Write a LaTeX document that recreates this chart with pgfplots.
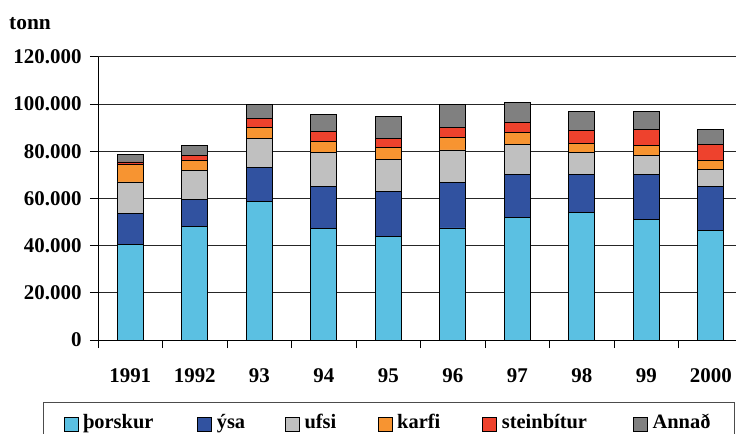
\documentclass[border=0pt]{standalone}
\usepackage{pgfplots}
\pgfplotsset{compat=1.18}
\usepackage{pgfplotstable}
\usepackage{fontspec}
\setmainfont{Liberation Serif}
\definecolor{cth}{RGB}{91,192,226}
\definecolor{cys}{RGB}{49,82,160}
\definecolor{cuf}{RGB}{192,192,192}
\definecolor{cka}{RGB}{247,148,49}
\definecolor{cst}{RGB}{238,66,45}
\definecolor{can}{RGB}{128,128,128}
\pgfplotstableread{
x th ys uf ka st an
0 40400 13100 13500 7400 1100 3300
1 48100 11600 12100 4300 2100 4400
2 58700 14400 12300 4800 3600 6200
3 47400 17700 14600 4600 4000 7200
4 44000 18900 13600 5100 3800 9400
5 47500 19200 13900 5300 4100 10000
6 52100 18000 12800 5000 4300 8500
7 54000 16100 9600 3800 5300 8000
8 51000 19100 8000 4400 6800 7500
9 46500 18600 7400 3800 6600 6500
}\data
\begin{document}
\begin{tikzpicture}
\path[use as bounding box] (0,0) rectangle (736bp,434bp);
\node[anchor=base west, inner sep=0pt, font=\fontsize{21.5}{25}\selectfont\bfseries] at (9bp,404bp) {tonn};
\begin{axis}[
 at={(98bp,94bp)}, anchor=south west,
 scale only axis, width=638bp, height=283bp,
 xmin=-0.5, xmax=9.39, ymin=0, ymax=120000,
 ybar stacked, bar width=26bp,
 axis lines=left, axis line style={-, line width=1bp, black},
 tick align=outside,
 tick style={line width=1bp, black},
 xtick={0,...,9},
 xticklabels={1991,1992,93,94,95,96,97,98,99,2000},
 minor xtick={-0.5,0.5,...,8.5},
 major x tick style={draw=none},
 minor tick length=8bp,
 major tick length=8bp,
 scaled y ticks=false,
 ytick={0,20000,40000,60000,80000,100000,120000},
 yticklabels={0,20.000,40.000,60.000,80.000,100.000,120.000},
 ymajorgrids, grid style={black!85, line width=1bp},
 /pgf/number format/assume math mode=true,
 ticklabel style={font=\fontsize{21}{25}\selectfont\bfseries},
 xticklabel style={yshift=-17bp},
 yticklabel style={xshift=-5bp},
 legend style={at={(-0.0862,-0.2191)}, anchor=north west, legend columns=-1,
   draw=black!70, line width=0.8bp, inner xsep=8bp, inner ysep=12bp,
   font=\fontsize{20.5}{24}\selectfont\bfseries, nodes={inner sep=0pt},
   cells={anchor=base west},
   /tikz/every odd column/.style={column sep=5bp},
   /tikz/every even column/.style={column sep=0bp}},
 legend image code/.code={\path (0bp,0bp); \draw[#1,draw=black,line width=0.6bp] (12bp,-2bp) rectangle (26bp,12bp);},
]
\addplot[fill=cth, draw=black, line width=0.8bp] table[x=x,y=th]{\data};
\addlegendentry{\makebox[102bp][l]{þorskur}}
\addplot[fill=cys, draw=black, line width=0.8bp] table[x=x,y=ys]{\data};
\addlegendentry{\makebox[56bp][l]{ýsa}}
\addplot[fill=cuf, draw=black, line width=0.8bp] table[x=x,y=uf]{\data};
\addlegendentry{\makebox[61bp][l]{ufsi}}
\addplot[fill=cka, draw=black, line width=0.8bp] table[x=x,y=ka]{\data};
\addlegendentry{\makebox[73bp][l]{karfi}}
\addplot[fill=cst, draw=black, line width=0.8bp] table[x=x,y=st]{\data};
\addlegendentry{\makebox[119bp][l]{steinbítur}}
\addplot[fill=can, draw=black, line width=0.8bp] table[x=x,y=an]{\data};
\addlegendentry{\makebox[74bp][l]{Annað}}
\end{axis}
\end{tikzpicture}
\end{document}
